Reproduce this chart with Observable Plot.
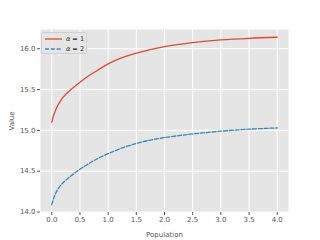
<!DOCTYPE html>
<html><head><meta charset="utf-8">
<script src="https://cdn.jsdelivr.net/npm/d3@7"></script>
<script src="https://cdn.jsdelivr.net/npm/@observablehq/plot@0.6"></script>
<style>
body{margin:0;background:#fff;font-family:"DejaVu Sans",sans-serif;}
#wrap{position:relative;width:320px;height:240px;}
#legend{position:absolute;left:41px;top:32px;width:46px;height:22px;border:1px solid #d0d0d0;background:rgba(229,229,229,0.8);border-radius:2px;box-sizing:border-box;}
#legend .row{position:absolute;left:3px;height:10px;display:flex;align-items:center;font-size:6.5px;color:#222;white-space:nowrap;}
</style></head>
<body><div id="wrap"></div>
<script>
const population = [0, 0.025, 0.05, 0.1, 0.15, 0.2, 0.3, 0.4, 0.5, 0.65, 0.8, 1.0, 1.25, 1.5, 1.75, 2.0, 2.25, 2.5, 3.0, 3.5, 4.0];
const alpha1 = [15.10, 15.165, 15.215, 15.295, 15.355, 15.405, 15.475, 15.535, 15.59, 15.665, 15.73, 15.815, 15.89, 15.945, 15.99, 16.025, 16.052, 16.075, 16.107, 16.127, 16.14];
const alpha2 = [14.09, 14.15, 14.20, 14.27, 14.32, 14.36, 14.42, 14.475, 14.525, 14.59, 14.65, 14.715, 14.785, 14.84, 14.882, 14.912, 14.936, 14.957, 14.99, 15.015, 15.03];
const seriesNames = ["α = 1", "α = 2"];
const xTicks = [0, 0.5, 1, 1.5, 2, 2.5, 3, 3.5, 4];
const yTicks = [14.0, 14.5, 15.0, 15.5, 16.0];

const d1 = population.map((x, i) => ({x, y: alpha1[i]}));
const d2 = population.map((x, i) => ({x, y: alpha2[i]}));

const chart = Plot.plot({
  width: 320, height: 240,
  marginLeft: 40, marginRight: 32, marginTop: 29, marginBottom: 28,
  style: {fontFamily: "DejaVu Sans, sans-serif", fontSize: "7px", color: "#555", background: "white"},
  x: {domain: [-0.2, 4.2]},
  y: {domain: [13.995, 16.235]},
  marks: [
    Plot.frame({fill: "#E5E5E5", stroke: "none"}),
    Plot.gridX(xTicks, {stroke: "white", strokeOpacity: 1, strokeWidth: 1}),
    Plot.gridY(yTicks, {stroke: "white", strokeOpacity: 1, strokeWidth: 1}),
    Plot.axisX(xTicks, {tickFormat: d3.format(".1f"), stroke: "#555", fill: "#555", tickSize: 3, tickPadding: 2, label: "Population", labelAnchor: "center", labelArrow: "none", labelOffset: 24}),
    Plot.axisY(yTicks, {tickFormat: d3.format(".1f"), stroke: "#555", fill: "#555", tickSize: 3, tickPadding: 2, label: "Value", labelAnchor: "center", labelArrow: "none", labelOffset: 31}),
    Plot.line(d1, {x: "x", y: "y", stroke: "#E24A33", strokeWidth: 1.3, curve: "catmull-rom"}),
    Plot.line(d2, {x: "x", y: "y", stroke: "#348ABD", strokeWidth: 1.3, strokeDasharray: "4,1.8", curve: "catmull-rom"})
  ]
});
const wrap = document.getElementById("wrap");
wrap.appendChild(chart);

const legend = document.createElement("div");
legend.id = "legend";
const colors = ["#E24A33", "#348ABD"];
const dashes = ["none", "4,1.8"];
seriesNames.forEach((name, i) => {
  const row = document.createElement("div");
  row.className = "row";
  row.style.top = (1 + i * 10) + "px";
  const [g, v] = name.split("=");
  row.innerHTML = `<svg width="17" height="4" style="margin-right:4px"><line x1="0" x2="17" y1="2" y2="2" stroke="${colors[i]}" stroke-width="1.3" stroke-dasharray="${dashes[i]}"/></svg><span><i>${g.trim()}</i> = ${v.trim()}</span>`;
  legend.appendChild(row);
});
wrap.appendChild(legend);
</script></body></html>
